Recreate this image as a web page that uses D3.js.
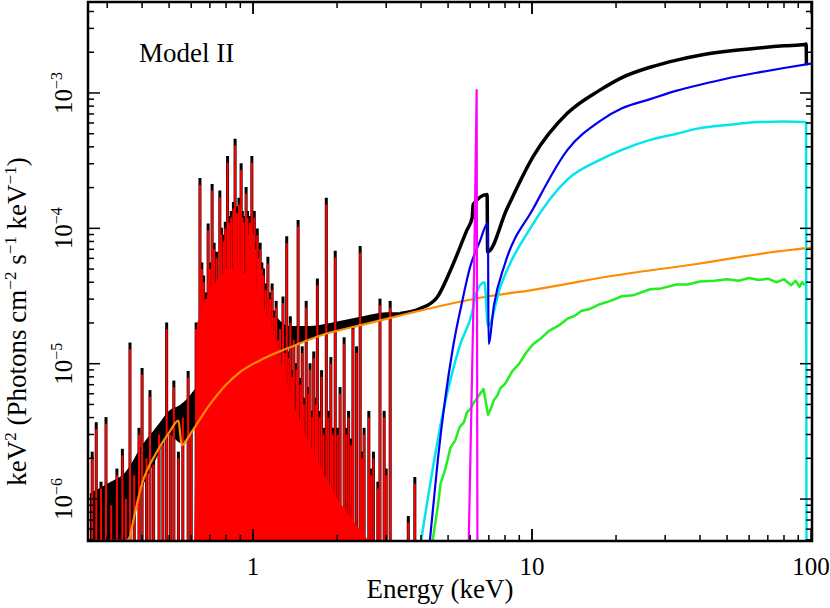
<!DOCTYPE html>
<html>
<head>
<meta charset="utf-8">
<script src="https://cdn.jsdelivr.net/npm/d3@7"></script>
<style>
body { margin: 0; background: #fff; }
text { font-family: "Liberation Serif", "DejaVu Serif", serif; }
</style>
</head>
<body>
<div id="chart-area"></div>
<script>
// plot frame in page pixels
var margin = {left: 88, right: 18, top: 2, bottom: 67};
var W = 830, H = 608;
var width = W - margin.left - margin.right,
	height = H - margin.top - margin.bottom;

// ---- data (energy keV, keV^2 flux) ----
var xTicks = [1, 10, 100];
var yTicks = [1e-6, 1e-5, 1e-4, 1e-3];
var yTickLabels = ["\u22126", "\u22125", "\u22124", "\u22123"];

// orange continuum
var orange = [[0.36,5e-7],[0.40,1.3e-6],[0.45,2.2e-6],[0.50,3.1e-6],[0.54,3.8e-6],[0.555,2.5e-6],
	[0.6,3.1e-6],[0.69,4.8e-6],[0.8,7e-6],[0.9,8.7e-6],[1.1,1.1e-5],[1.33,1.3e-5],[1.8,1.65e-5],
	[2.5,1.95e-5],[3.6,2.35e-5],[5,2.75e-5],[7,3.15e-5],[10,3.5e-5],[20,4.5e-5],[40,5.5e-5],[70,6.6e-5],[100,7.2e-5]];

// black "hair" band above the continuum below ~3.5 keV [E, lo, hi]
var blackBand = [[0.26,5e-7,1.1e-6],[0.3,5e-7,1.3e-6],[0.35,5e-7,1.6e-6],[0.40,1.2e-6,2.5e-6],[0.45,2e-6,3.4e-6],
	[0.5,3e-6,4.5e-6],[0.55,2.6e-6,5e-6],[0.6,3.1e-6,6e-6],[0.65,4e-6,8e-6],[0.7,5e-6,2e-5],[0.8,7e-6,4e-5],
	[0.9,8.7e-6,6e-5],[1.0,1e-5,5e-5],[1.1,1.1e-5,3.2e-5],[1.2,1.2e-5,2.3e-5],[1.35,1.3e-5,1.9e-5],[1.6,1.5e-5,1.9e-5],
	[2.0,1.75e-5,2.05e-5],[2.5,1.95e-5,2.25e-5],[3.0,2.15e-5,2.4e-5],[3.4,2.3e-5,2.4e-5]];

// total model (black) above 3.3 keV
var black = [[3.37,2.35e-5],[3.97,2.55e-5],[4.57,3.1e-5],[5.1,4.9e-5],[5.84,9.7e-5],[6.1,1.2e-4],[6.15,1.5e-4],
	[6.9,1.78e-4],[6.93,6.7e-5],[8.1,1.37e-4],[10.1,3.4e-4],[13.4,7.1e-4],[17.5,1.05e-3],[21,1.3e-3],[26.5,1.55e-3],
	[33,1.75e-3],[40,1.9e-3],[50,2.03e-3],[65,2.15e-3],[80,2.23e-3],[95,2.28e-3],[96,2.3e-3],[96.3,1.6e-3]];

var blue = [[4.3,4.9e-7],[4.6,2e-6],[5.2,1.3e-5],[5.6,2.8e-5],[6.0,5.2e-5],[6.5,8e-5],[6.95,1.1e-4],[6.98,1.4e-5],
	[7.3,2.7e-5],[8,5.5e-5],[10.1,1.4e-4],[13.4,3.8e-4],[17.5,6.2e-4],[21,7.7e-4],[26.5,9e-4],[33,1.04e-3],
	[40,1.15e-3],[50,1.28e-3],[65,1.42e-3],[80,1.53e-3],[100,1.65e-3]];

var cyan = [[4.0,4.9e-7],[4.8,4.4e-6],[5.5,1.35e-5],[6.1,2.4e-5],[6.3,3.3e-5],[6.75,4e-5],[6.95,1.9e-5],
	[7.7,3.7e-5],[10,1.05e-4],[13.4,2.3e-4],[17.5,3.2e-4],[21,3.8e-4],[26.5,4.5e-4],[33,5e-4],[40,5.5e-4],
	[50,5.8e-4],[65,6.1e-4],[80,6.15e-4],[95,6.1e-4],[96,6e-4],[96.3,4.9e-7]];

var green = [[4.4,4.9e-7],[4.6,9e-7],[4.7,1.3e-6],[4.9,1.7e-6],[5.1,2.4e-6],[5.3,2.7e-6],[5.5,3.4e-6],[5.7,3.7e-6],
	[5.85,4.4e-6],[6.0,4.6e-6],[6.2,5.2e-6],[6.4,5.7e-6],[6.7,6.5e-6],[6.95,4.2e-6],[7.1,4.6e-6],[7.3,5.4e-6],
	[7.5,5.8e-6],[7.7,6.6e-6],[8.0,7.1e-6],[8.5,8.8e-6],[9.0,1.0e-5],[9.5,1.2e-5],[10.1,1.4e-5],[10.8,1.55e-5],
	[11.5,1.75e-5],[12.4,1.9e-5],[13.4,2.15e-5],[14.2,2.25e-5],[15,2.45e-5],[16.2,2.55e-5],[17.5,2.75e-5],
	[19,2.9e-5],[21,3.15e-5],[23,3.2e-5],[26.5,3.55e-5],[29,3.6e-5],[33,3.85e-5],[36,3.85e-5],[40,4.05e-5],
	[45,4.1e-5],[50,4.2e-5],[55,4.1e-5],[60,4.3e-5],[65,4.15e-5],[70,4.25e-5],[75,4.0e-5],[80,4.2e-5],
	[85,3.8e-5],[88,4.1e-5],[91,3.7e-5],[93,4.0e-5],[95,3.8e-5]];

var magenta = [[5.93,4.9e-7],[6.2,5e-5],[6.33,1.05e-3],[6.37,4.9e-7]];

// emission lines (red), peak values
var lines = [[0.265,2e-6],[0.274,3.3e-6],[0.285,1.2e-6],[0.297,3.6e-6],[0.31,9e-7],[0.325,1.5e-6],[0.34,2.1e-6],
	[0.35,1e-6],[0.362,1.28e-5],[0.375,1.5e-6],[0.39,3e-6],[0.40,8.3e-6],[0.415,2e-6],[0.427,5.7e-6],[0.44,1.8e-6],
	[0.46,3e-6],[0.475,2.5e-6],[0.49,1.8e-5],[0.505,3e-6],[0.52,6.7e-6],[0.54,2e-6],[0.56,4e-6],[0.585,7.9e-6],
	[0.6,3e-6],[0.625,1.8e-5],[0.645,2.1e-4],[0.655,5e-5],[0.665,4e-5],[0.675,3e-5],[0.69,9.7e-5],[0.70,5e-5],
	[0.713,1.9e-4],[0.725,7e-5],[0.74,6e-5],[0.76,1.7e-4],[0.77,9e-5],[0.785,8e-5],[0.795,1e-4],[0.81,3.05e-4],
	[0.82,1.1e-4],[0.835,1.2e-4],[0.85,1.4e-4],[0.862,4.1e-4],[0.875,1.3e-4],[0.89,1.5e-4],[0.906,2.7e-4],
	[0.915,1.2e-4],[0.925,1.1e-4],[0.944,1.8e-4],[0.955,1.2e-4],[0.965,9e-5],[0.975,1.1e-4],[0.99,3.05e-4],
	[1.0,9e-5],[1.01,1.2e-4],[1.02,7e-5],[1.035,8.9e-5],[1.05,6e-5],[1.06,7e-5],[1.075,5e-5],[1.09,4.5e-5],
	[1.11,3.5e-5],[1.13,5.5e-5],[1.15,3e-5],[1.17,3.5e-5],[1.19,2.2e-5],[1.21,2.6e-5],[1.23,1.5e-5],[1.25,1.8e-5],
	[1.28,2.8e-5],[1.30,1.2e-5],[1.32,7.8e-5],[1.34,1.1e-5],[1.36,2e-5],[1.38,8e-6],[1.40,1.5e-5],[1.43,9e-6],
	[1.45,1.03e-4],[1.48,7e-6],[1.5,1.2e-5],[1.52,5e-6],[1.55,2.6e-5],[1.58,6e-6],[1.6,9e-6],[1.63,4e-6],
	[1.65,1.1e-5],[1.68,5e-6],[1.70,3.8e-5],[1.73,4e-6],[1.76,8e-6],[1.79,3e-6],[1.83,1.5e-4],[1.86,4e-6],
	[1.90,1e-5],[1.93,3e-6],[1.97,6.1e-5],[2.01,3e-6],[2.05,6e-6],[2.12,1.4e-5],[2.16,3e-6],[2.2,4e-6],
	[2.24,2.5e-6],[2.28,1.8e-5],[2.35,1.2e-5],[2.42,6.6e-5],[2.46,2e-6],[2.5,3e-6],[2.6,4e-6],[2.65,1.5e-6],
	[2.7,2e-6],[2.8,1.2e-6],[2.85,2.7e-5],[2.95,4e-6],[3.0,1.5e-6],[3.1,2.6e-5],[3.6,6.7e-7],[3.8,1.3e-6]];

// envelope of the blended weak lines (solid red region)
var redEnvelope = [[0.615,4.9e-7],[0.63,2e-5],[0.7,3.5e-5],[0.8,5e-5],[0.9,5e-5],[1.0,4e-5],[1.1,2.5e-5],
	[1.2,1.5e-5],[1.3,8e-6],[1.45,4e-6],[1.6,2.5e-6],[1.8,1.5e-6],[2.0,1e-6],[2.4,6e-7],[2.6,4.9e-7]];

// ---- svg ----
var svg = d3.select("#chart-area").append("svg")
	.attr("width", W).attr("height", H);

svg.append("defs").append("clipPath").attr("id", "clip")
	.append("rect").attr("x", margin.left).attr("y", margin.top)
	.attr("width", width).attr("height", height);

var x = d3.scaleLog().domain([0.256, 100.8]).range([margin.left, margin.left + width]);
var y = d3.scaleLog().domain([4.9e-7, 4.7e-3]).range([margin.top + height, margin.top]);
var yBase = y(4.9e-7) + 2;

var g = svg.append("g").attr("clip-path", "url(#clip)");

function drawLine(data, color, w, curve) {
	var gen = d3.line().x(function(d){ return x(d[0]); }).y(function(d){ return y(d[1]); })
		.curve(curve || d3.curveMonotoneX);
	g.append("path").attr("d", gen(data))
		.attr("fill", "none").attr("stroke", color)
		.attr("stroke-width", w).attr("stroke-linejoin", "round");
}

// black band
g.append("path")
	.attr("d", d3.area()
		.x(function(d){ return x(d[0]); })
		.y0(function(d){ return y(d[1]); })
		.y1(function(d){ return y(d[2]); })
		.curve(d3.curveMonotoneX)(blackBand))
	.attr("fill", "#000");

// black spikes (total = line + continuum, a touch higher than red)
lines.forEach(function(l){
	g.append("line")
		.attr("x1", x(l[0])).attr("x2", x(l[0]))
		.attr("y1", yBase).attr("y2", y(l[1] * 1.12))
		.attr("stroke", "#000").attr("stroke-width", 3);
});

// red blend + lines
g.append("path")
	.attr("d", d3.area()
		.x(function(d){ return x(d[0]); })
		.y0(yBase)
		.y1(function(d){ return y(d[1]); })(redEnvelope))
	.attr("fill", "#ff0000");

lines.forEach(function(l){
	g.append("line")
		.attr("x1", x(l[0])).attr("x2", x(l[0]))
		.attr("y1", yBase).attr("y2", y(l[1]))
		.attr("stroke", "#ff0000").attr("stroke-width", 2);
});

drawLine(black, "#000", 3.5);
drawLine(orange, "#ff8c00", 2.2);
drawLine(green, "#22ee22", 2.5, d3.curveLinear);
drawLine(cyan, "#00e5ee", 2.5);
drawLine(blue, "#0000ee", 2.2);
drawLine(magenta, "#ff00ff", 2.2, d3.curveLinear);

// ---- axes ----
var axes = svg.append("g");
var x0 = margin.left, x1 = margin.left + width, y0 = margin.top + height, y1 = margin.top;

var xMinor = [];
[0.1, 1, 10].forEach(function(dec){
	for (var k = 1; k <= 10; k++) {
		var v = dec * k;
		if (v >= 0.256 && v <= 100.8) xMinor.push(v);
	}
});
xMinor.forEach(function(v){
	var major = xTicks.some(function(t){ return Math.abs(t - v) / t < 1e-6; });
	var len = major ? 12 : 6;
	axes.append("line").attr("x1", x(v)).attr("x2", x(v)).attr("y1", y0).attr("y2", y0 - len)
		.attr("stroke", "#000").attr("stroke-width", 1.5);
	axes.append("line").attr("x1", x(v)).attr("x2", x(v)).attr("y1", y1).attr("y2", y1 + len)
		.attr("stroke", "#000").attr("stroke-width", 1.5);
});

var yMinor = [];
[1e-7, 1e-6, 1e-5, 1e-4, 1e-3].forEach(function(dec){
	for (var k = 1; k < 10; k++) {
		var v = dec * k;
		if (v >= 4.9e-7 && v <= 4.7e-3) yMinor.push(v);
	}
});
yMinor.forEach(function(v){
	var major = yTicks.some(function(t){ return Math.abs(t - v) / t < 1e-6; });
	var len = major ? 12 : 6;
	axes.append("line").attr("x1", x0).attr("x2", x0 + len).attr("y1", y(v)).attr("y2", y(v))
		.attr("stroke", "#000").attr("stroke-width", 1.5);
	axes.append("line").attr("x1", x1).attr("x2", x1 - len).attr("y1", y(v)).attr("y2", y(v))
		.attr("stroke", "#000").attr("stroke-width", 1.5);
});

axes.append("rect").attr("x", x0).attr("y", y1).attr("width", width).attr("height", height)
	.attr("fill", "none").attr("stroke", "#000").attr("stroke-width", 2.5);

xTicks.forEach(function(v){
	axes.append("text").attr("x", x(v)).attr("y", y0 + 34)
		.attr("text-anchor", "middle").attr("font-size", "25px").text(v);
});

yTicks.forEach(function(v, i){
	var t = axes.append("text")
		.attr("transform", "translate(" + (x0 - 16) + "," + y(v) + ") rotate(-90)")
		.attr("text-anchor", "middle").attr("font-size", "25px");
	t.append("tspan").text("10");
	t.append("tspan").attr("dy", -10).attr("font-size", "16px").text(yTickLabels[i]);
});

axes.append("text").attr("x", 440).attr("y", 598).attr("text-anchor", "middle")
	.attr("font-size", "27px").text("Energy (keV)");

var yl = axes.append("text")
	.attr("transform", "translate(26," + (y1 + height / 2 + 50) + ") rotate(-90)")
	.attr("text-anchor", "middle").attr("font-size", "27px");
yl.append("tspan").text("keV");
yl.append("tspan").attr("dy", -10).attr("font-size", "17px").text("2");
yl.append("tspan").attr("dy", 10).text(" (Photons cm");
yl.append("tspan").attr("dy", -10).attr("font-size", "17px").text("\u22122");
yl.append("tspan").attr("dy", 10).text(" s");
yl.append("tspan").attr("dy", -10).attr("font-size", "17px").text("\u22121");
yl.append("tspan").attr("dy", 10).text(" keV");
yl.append("tspan").attr("dy", -10).attr("font-size", "17px").text("\u22121");
yl.append("tspan").attr("dy", 10).text(")");

axes.append("text").attr("x", 139).attr("y", 62).attr("font-size", "27px").text("Model II");
</script>
</body>
</html>
